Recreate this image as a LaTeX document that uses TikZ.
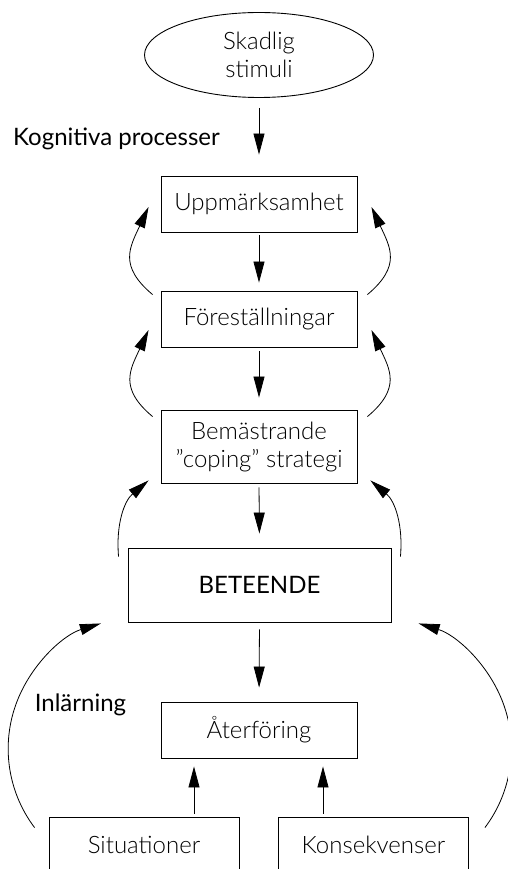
\documentclass[tikz,border=0pt]{standalone}
\usepackage{fontspec}
\setmainfont{Lato}
\newfontfamily\tunn{Lato Light}
\usetikzlibrary{arrows.meta,shapes.geometric}
\tikzset{
  ruta/.style={draw,line width=0.9pt,align=center,inner sep=2pt,
               font=\tunn\fontsize{24}{28}\selectfont,
               minimum width=196pt,minimum height=56pt},
  rutab/.style={ruta,font=\fontsize{24}{28}\selectfont,
                minimum width=263pt,minimum height=74pt},
  rutal/.style={ruta,minimum width=190pt},
  moln/.style={ruta,ellipse,minimum width=229pt,minimum height=85pt},
  pil/.style={-{Triangle[length=21pt,width=11pt]},line width=0.8pt},
  et/.style={font=\fontsize{24}{28}\selectfont,inner sep=0pt},
}
\begin{document}
\begin{tikzpicture}[x=1pt,y=1pt]
\useasboundingbox (0,0) rectangle (507,-869);

\node[moln] (stim) at (259,-55) {Skadlig\\stimuli};
\node[ruta] (upp) at (259,-204) {Uppmärksamhet};
\node[ruta] (fore) at (259,-319) {Föreställningar};
\node[ruta,minimum height=73pt] (bem) at (259,-446.5) {Bemästrande\\”coping” strategi};
\node[rutab] (bet) at (259.5,-585) {BETEENDE};
\node[ruta] (ater) at (259,-730) {Återföring};
\node[rutal] (sit) at (144,-845) {Situationer};
\node[rutal] (kons) at (373.5,-845) {Konsekvenser};

\node[et] (kog) at (116.5,-139) {Kognitiva processer};
\node[et] (inl) at (80.5,-705) {Inlärning};

% rakt nedat
\draw[pil,shorten <=10pt,shorten >=21pt] (stim.south) -- (upp.north);
\draw[pil,shorten <=3pt,shorten >=8pt] (upp.south) -- (fore.north);
\draw[pil,shorten <=4pt,shorten >=12pt] (fore.south) -- (bem.north);
\draw[pil,shorten <=4pt,shorten >=14pt] (bem.south) -- (bet.north);
\draw[pil,shorten <=7pt,shorten >=14pt] (bet.south) -- (ater.north);
\draw[pil,shorten <=3pt,shorten >=8pt] ([xshift=50pt]sit.north) -- ([xshift=-65pt]ater.south);
\draw[pil,shorten <=3pt,shorten >=8pt] ([xshift=-50.5pt]kons.north) -- ([xshift=64pt]ater.south);

% bagar
\draw[pil] ([xshift=-8pt,yshift=-4pt]fore.north west) to[out=140,in=245,looseness=1.3] ([xshift=-12pt,yshift=-3pt]upp.west);
\draw[pil] ([xshift=10pt,yshift=-4pt]fore.north east) to[out=40,in=295,looseness=1.3] ([xshift=14pt,yshift=-3pt]upp.east);
\draw[pil] ([xshift=-8pt,yshift=-7pt]bem.north west) to[out=140,in=245,looseness=1.3] ([xshift=-12pt,yshift=-11pt]fore.west);
\draw[pil] ([xshift=10pt,yshift=-7pt]bem.north east) to[out=40,in=295,looseness=1.3] ([xshift=14pt,yshift=-11pt]fore.east);
\draw[pil] ([xshift=-9pt,yshift=-9pt]bet.north west) to[out=95,in=220] ([xshift=-12pt,yshift=3pt]bem.south west);
\draw[pil] ([xshift=9pt,yshift=-9pt]bet.north east) to[out=85,in=320] ([xshift=13pt,yshift=3pt]bem.south east);
% stora bagar upp till BETEENDE
\draw[pil] ([xshift=-14pt,yshift=-11pt]sit.north west) arc[start angle=217,end angle=107,radius=131];
\draw[pil] ([xshift=16pt,yshift=-11pt]kons.north east) arc[start angle=-37,end angle=73,radius=131];

\end{tikzpicture}
\end{document}
